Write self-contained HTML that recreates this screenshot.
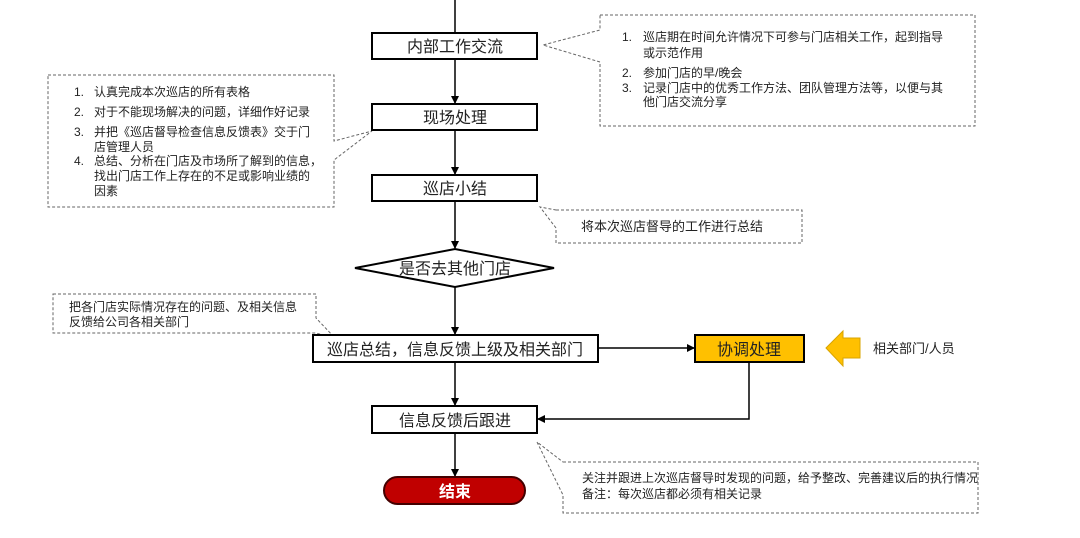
<!DOCTYPE html>
<html><head><meta charset="utf-8"><style>
html,body{margin:0;padding:0;background:#fff;}
svg{display:block;font-family:"Liberation Sans","Noto Sans CJK SC",sans-serif;}
</style></head><body>
<svg width="1080" height="538" viewBox="0 0 1080 538" xmlns="http://www.w3.org/2000/svg">
<defs><marker id="a" markerWidth="8" markerHeight="8" refX="7" refY="4" orient="auto" markerUnits="userSpaceOnUse"><path d="M0,0 L8,4 L0,8 z" fill="#000"/></marker></defs>
<g stroke="#666" stroke-width="1" stroke-dasharray="3,2" fill="#fff">
<path d="M600,15 H975 V126 H600 V62 L543,45 L600,30 Z"/>
<path d="M48,75 H334 V141 L372,131 L334,160 V207 H48 Z"/>
<path d="M556,210 H802 V243 H556 V228 L540,207 Z"/>
<path d="M53,294 H316 V318 L335,338 L316,333 H53 Z"/>
<path d="M563,462 H978 V513 H563 V495 L537,442 Z"/>
</g>
<g fill="#222" font-size="12">
<text x="622" y="41">1.</text><text x="643" y="41">巡店期在时间允许情况下可参与门店相关工作，起到指导</text>
<text x="643" y="57">或示范作用</text>
<text x="622" y="77">2.</text><text x="643" y="77">参加门店的早/晚会</text>
<text x="622" y="92">3.</text><text x="643" y="92">记录门店中的优秀工作方法、团队管理方法等，以便与其</text>
<text x="643" y="106">他门店交流分享</text>
<text x="74" y="96">1.</text><text x="94" y="96">认真完成本次巡店的所有表格</text>
<text x="74" y="116">2.</text><text x="94" y="116">对于不能现场解决的问题，详细作好记录</text>
<text x="74" y="136">3.</text><text x="94" y="136">并把《巡店督导检查信息反馈表》交于门</text>
<text x="94" y="151">店管理人员</text>
<text x="74" y="165">4.</text><text x="94" y="165">总结、分析在门店及市场所了解到的信息，</text>
<text x="94" y="180">找出门店工作上存在的不足或影响业绩的</text>
<text x="94" y="195">因素</text>
<text x="69" y="311">把各门店实际情况存在的问题、及相关信息</text>
<text x="69" y="326">反馈给公司各相关部门</text>
<text x="582" y="482">关注并跟进上次巡店督导时发现的问题，给予整改、完善建议后的执行情况</text>
<text x="582" y="498">备注：每次巡店都必须有相关记录</text>
</g>
<text x="581" y="231" font-size="13" fill="#222">将本次巡店督导的工作进行总结</text>
<g stroke="#000" stroke-width="1.5" fill="none">
<line x1="455" y1="0" x2="455" y2="33"/>
<line x1="455" y1="59" x2="455" y2="103" marker-end="url(#a)"/>
<line x1="455" y1="130" x2="455" y2="174" marker-end="url(#a)"/>
<line x1="455" y1="201" x2="455" y2="248" marker-end="url(#a)"/>
<line x1="455" y1="287" x2="455" y2="334" marker-end="url(#a)"/>
<line x1="455" y1="362" x2="455" y2="405" marker-end="url(#a)"/>
<line x1="455" y1="433" x2="455" y2="476" marker-end="url(#a)"/>
<line x1="598" y1="348" x2="694" y2="348" marker-end="url(#a)"/>
<polyline points="749,362 749,419 538,419" marker-end="url(#a)"/>
</g>
<g stroke="#000" stroke-width="2" fill="#fff">
<rect x="372" y="33" width="165" height="26"/>
<rect x="372" y="104" width="165" height="26"/>
<rect x="372" y="175" width="165" height="26"/>
<polygon points="355,268 455,249 554,268 455,287"/>
<rect x="313" y="335" width="285" height="27"/>
<rect x="372" y="406" width="165" height="27"/>
<rect x="695" y="335" width="109" height="27" fill="#FFC000"/>
<rect x="384" y="477" width="141" height="27" rx="13.5" fill="#C00000" stroke="#400"/>
</g>
<path d="M826,348 L843,331 V338 H860 V358 H843 V366 Z" fill="#FFC000" stroke="#D9A400"/>
<g font-size="16" fill="#222" text-anchor="middle">
<text x="455" y="52">内部工作交流</text>
<text x="455" y="123">现场处理</text>
<text x="455" y="194">巡店小结</text>
<text x="455" y="274">是否去其他门店</text>
<text x="455" y="355">巡店总结，信息反馈上级及相关部门</text>
<text x="455" y="426">信息反馈后跟进</text>
<text x="749" y="355">协调处理</text>
<text x="455" y="497" fill="#fff" font-weight="bold">结束</text>
</g>
<text x="873" y="353" font-size="13" fill="#222">相关部门/人员</text>
</svg>
</body></html>
